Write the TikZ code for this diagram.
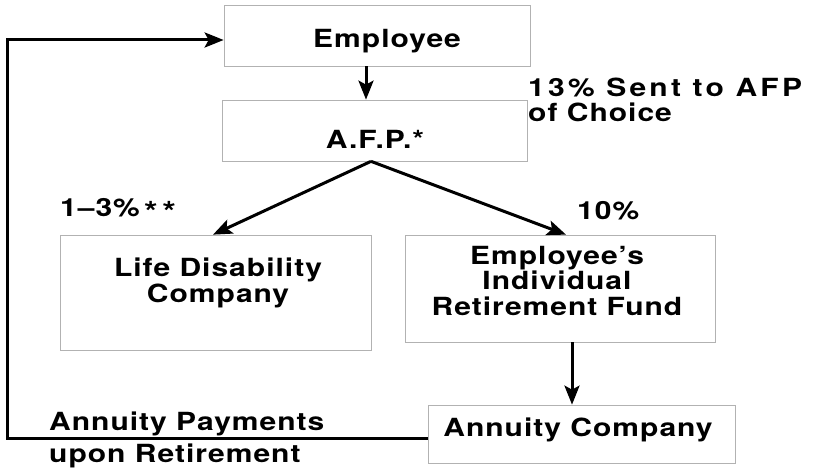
\documentclass[tikz,border=0pt]{standalone}
\usepackage{fontspec}
\setmainfont{TeX Gyre Heros}[FakeStretch=1.2, LetterSpace=4]
\usetikzlibrary{arrows.meta,calc}

\begin{document}
\begin{tikzpicture}[x=1pt, y=-1pt,
  box/.style={draw=gray!60, line width=0.7pt, inner sep=0pt, rectangle},
  txt/.style={inner sep=0pt, anchor=base, font=\fontsize{25}{25.5}\selectfont\bfseries},
  flow/.style={line width=3pt, -{Stealth[length=19pt, width=15pt, inset=4pt]}}
]
\useasboundingbox (0,0) rectangle (813,470);

% boxes
\node[box, minimum width=306pt, minimum height=61pt]  (emp)  at (377,35.5)  {};
\node[box, minimum width=305pt, minimum height=61pt]  (afp)  at (374.5,130.5) {};
\node[box, minimum width=311pt, minimum height=115pt] (life) at (215.5,292.5) {};
\node[box, minimum width=310pt, minimum height=107pt] (irf)  at (560,288.5) {};
\node[box, minimum width=307pt, minimum height=58pt]  (ann)  at (581.5,434) {};

% box texts (multi-line nodes sit on the baseline of their last line)
\node[txt] (tEmp)  at (387,48)  {Employee};
\node[txt] (tAfp)  at (375,149) {A.F.P.*};
\node[txt, align=center] (tLife) at (218,302) {Life Disability\\Company};
\node[txt, align=center] (tIrf)  at (557,315) {Employee’s\\Individual\\Retirement Fund};
\node[txt] (tAnn)  at (578,436) {Annuity Company};

% flow labels
\node[txt, anchor=base west, align=left] (l13) at (528,122)
  {{\addfontfeatures{LetterSpace=13}13\% Sent to AFP}\\of Choice};
\node[txt, anchor=base west] (l1) at (60,217)
  {1–3\%\,{\fontsize{29}{29}\selectfont\raisebox{-6pt}{*\,*}}};
\node[txt, anchor=base west] (l10) at (577,220) {10\%};
\node[txt, anchor=base west, align=left] (lpay) at (49,462) {Annuity Payments\\[6pt]upon Retirement};

% connectors
\draw[flow] ([xshift=-11pt]emp.south) -- ([xshift=-8.5pt]afp.north);
\draw[flow] ([xshift=-3.5pt]afp.south) -- ([xshift=-2.5pt]life.north);
\draw[flow] ([xshift=-3.5pt]afp.south) -- ([xshift=6pt]irf.north);
\coordinate (irfout) at ([xshift=12pt]irf.south);
\draw[flow] (irfout) -- (irfout |- ann.north);

% payments loop back to the employee
\coordinate (loop) at (7,0);
\draw[flow, line join=miter]
  ([yshift=-4pt]ann.west) -- ([yshift=-4pt]ann.west -| loop)
  -- ([yshift=-4.5pt]emp.west -| loop) -- ([yshift=-4.5pt]emp.west);
\end{tikzpicture}
\end{document}
